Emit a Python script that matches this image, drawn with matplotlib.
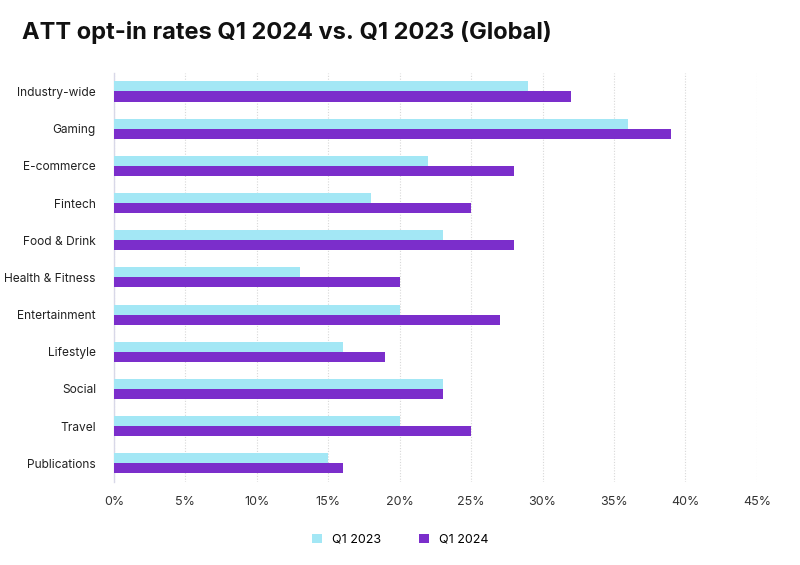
import numpy as np
import matplotlib
matplotlib.use("Agg")
import matplotlib.pyplot as plt
from matplotlib.ticker import FuncFormatter

plt.rcParams['font.family'] = ['Inter', 'DejaVu Sans']

# data
categories = ['Industry-wide', 'Gaming', 'E-commerce', 'Fintech', 'Food & Drink',
              'Health & Fitness', 'Entertainment', 'Lifestyle', 'Social', 'Travel',
              'Publications']
q1_2023 = [29, 36, 22, 18, 23, 13, 20, 16, 23, 20, 15]
q1_2024 = [32, 39, 28, 25, 28, 20, 27, 19, 23, 25, 16]
x_ticks = [0, 5, 10, 15, 20, 25, 30, 35, 40, 45]

c23 = '#a3e7f5'
c24 = '#7b2ecb'

fig = plt.figure(figsize=(8, 5.65), dpi=100)
ax = fig.add_axes([0.1425, 0.147, 0.8035, 0.724])

y = np.arange(len(categories))
h = 0.27
ax.barh(y - h / 2, q1_2023, height=h, color=c23, label='Q1 2023', zorder=3)
ax.barh(y + h / 2, q1_2024, height=h, color=c24, label='Q1 2024', zorder=3)

ax.set_ylim(len(categories) - 0.5, -0.5)
ax.set_yticks(y)
ax.set_yticklabels(categories, fontsize=8.6, color='#222222')
ax.set_xlim(0, 45)
ax.set_xticks(x_ticks)
ax.xaxis.set_major_formatter(FuncFormatter(lambda v, p: f'{v:.0f}%'))
ax.tick_params(axis='x', labelsize=9, colors='#333333', length=0, pad=10)
ax.tick_params(axis='y', length=0, pad=13)

ax.grid(axis='x', color='#d8d8d8', linestyle=(0, (1, 1.5)), linewidth=0.8, zorder=0)
for s in ['top', 'right', 'bottom']:
    ax.spines[s].set_visible(False)
ax.spines['left'].set_color('#d8d8e8')
ax.spines['left'].set_linewidth(1)

fig.text(0.0275, 0.943, 'ATT opt-in rates Q1 2024 vs. Q1 2023 (Global)',
         fontsize=17, fontweight='bold', color='#111111', va='center')

fig.legend(loc='center', bbox_to_anchor=(0.5, 0.045), ncol=2, frameon=False,
           fontsize=9, handlelength=0.8, handleheight=0.8, columnspacing=3,
           handletextpad=0.8)

plt.savefig('out.png', dpi=100)
